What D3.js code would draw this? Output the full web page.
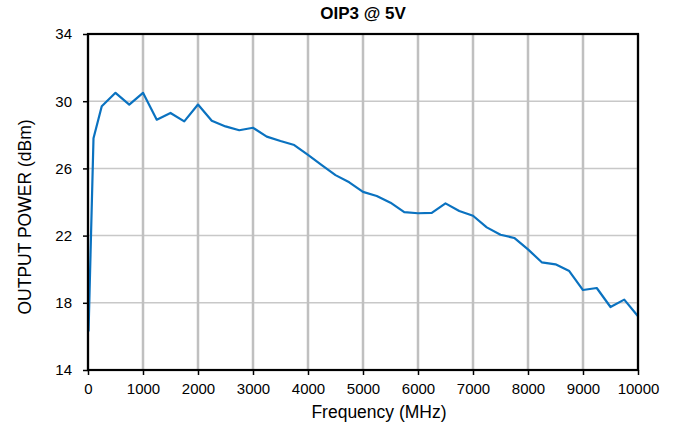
<!DOCTYPE html>
<html>
<head>
<meta charset="utf-8">
<script src="https://cdn.jsdelivr.net/npm/d3@7"></script>
<style>
  body { margin: 0; background: #fff; }
  svg { font-family: "Liberation Sans", Arial, sans-serif; }
</style>
</head>
<body>
<svg id="chart"></svg>
<script>
// values
var freqs = [10, 100, 250, 500, 750, 1000, 1250, 1500, 1750, 2000, 2250, 2500, 2750, 3000,
  3250, 3500, 3750, 4000, 4250, 4500, 4750, 5000, 5250, 5500, 5750, 6000, 6250, 6500,
  6750, 7000, 7250, 7500, 7750, 8000, 8250, 8500, 8750, 9000, 9250, 9500, 9750, 10000];
var oip3 = [16.3, 27.8, 29.7, 30.5, 29.8, 30.5, 28.9, 29.3, 28.8, 29.8, 28.84, 28.5, 28.27, 28.42,
  27.89, 27.63, 27.39, 26.8, 26.2, 25.6, 25.17, 24.6, 24.36, 23.96, 23.4, 23.33, 23.35, 23.92,
  23.46, 23.18, 22.49, 22.05, 21.86, 21.18, 20.41, 20.29, 19.89, 18.76, 18.88, 17.75, 18.19, 17.2];
var xTicks = [0, 1000, 2000, 3000, 4000, 5000, 6000, 7000, 8000, 9000, 10000];
var yTicks = [14, 18, 22, 26, 30, 34];

var W = 674, H = 428;
var margin = { top: 34, right: 36, bottom: 58, left: 88 },
    width = W - margin.left - margin.right,
    height = H - margin.top - margin.bottom;

var svg = d3.select('#chart').attr('width', W).attr('height', H);
var g = svg.append('g').attr('transform', 'translate(' + margin.left + ',' + margin.top + ')');

var x = d3.scaleLinear().domain([0, 10000]).range([0, width]);
var y = d3.scaleLinear().domain([14, 34]).range([height, 0]);

// horizontal grid
g.selectAll('.hgrid').data(yTicks).enter().append('line')
    .attr('x1', 0).attr('x2', width)
    .attr('y1', function(d){ return y(d); }).attr('y2', function(d){ return y(d); })
    .attr('stroke', '#c8c8c8').attr('stroke-width', 1.5);
// vertical grid (heavier)
g.selectAll('.vgrid').data(xTicks).enter().append('line')
    .attr('x1', function(d){ return x(d); }).attr('x2', function(d){ return x(d); })
    .attr('y1', 0).attr('y2', height)
    .attr('stroke', '#c0c0c0').attr('stroke-width', 2.5);

// axes
var xAxis = d3.axisBottom(x).tickValues(xTicks).tickSize(5).tickSizeOuter(0).tickFormat(d3.format('d'));
var yAxis = d3.axisLeft(y).tickValues(yTicks).tickSize(5).tickSizeOuter(0);

var gx = g.append('g').attr('transform', 'translate(0,' + height + ')').call(xAxis);
var gy = g.append('g').call(yAxis);
[gx, gy].forEach(function(a){
  a.select('.domain').remove();
  a.selectAll('.tick line').attr('stroke', '#000').attr('stroke-width', 1.5);
  a.selectAll('.tick text').attr('fill', '#000').style('font-size', '15px')
    .style('font-family', '"Liberation Sans", Arial, sans-serif');
});
gx.selectAll('.tick text').attr('y', 6).attr('dy', '1.2em');
gy.selectAll('.tick text').attr('x', -16);

// data line
var line = d3.line().x(function(d){ return x(d[0]); }).y(function(d){ return y(d[1]); });
g.append('path').datum(d3.zip(freqs, oip3))
    .attr('d', line).attr('fill', 'none')
    .attr('stroke', '#0a72c0').attr('stroke-width', 2.2).attr('stroke-linejoin', 'round');

// frame
g.append('rect').attr('width', width).attr('height', height)
    .attr('fill', 'none').attr('stroke', '#000').attr('stroke-width', 2.2);

// title and labels
svg.append('text').attr('x', margin.left + width / 2).attr('y', 19)
    .attr('text-anchor', 'middle').style('font-size', '17px').style('font-weight', 'bold')
    .text('OIP3 @ 5V');
svg.append('text').attr('x', margin.left + width / 2 + 16).attr('y', 418)
    .attr('text-anchor', 'middle').style('font-size', '17.5px')
    .text('Frequency (MHz)');
svg.append('text')
    .attr('transform', 'translate(31,' + (margin.top + height / 2 + 15) + ') rotate(-90)')
    .attr('text-anchor', 'middle').style('font-size', '17.5px')
    .text('OUTPUT POWER (dBm)');
</script>
</body>
</html>
